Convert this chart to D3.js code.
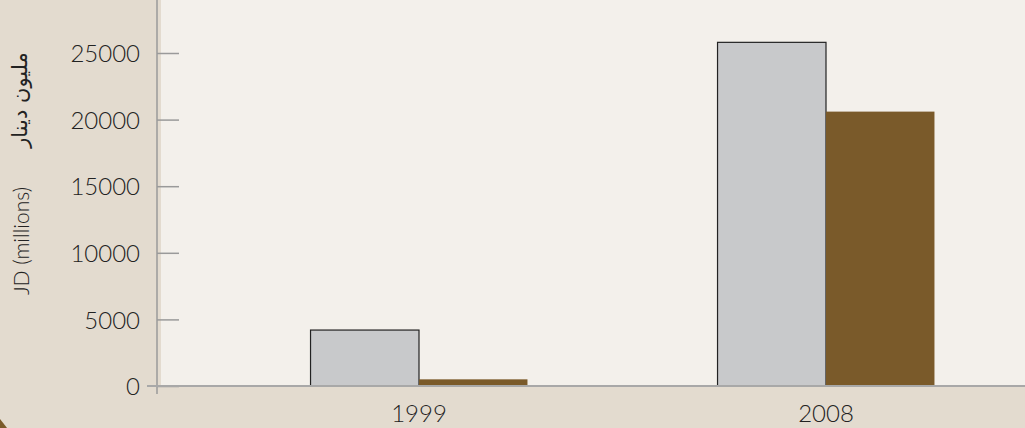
<!DOCTYPE html>
<html>
<head>
<meta charset="utf-8">
<script src="https://cdn.jsdelivr.net/npm/d3@7"></script>
<style>
  body { margin: 0; background: #e3dbcf; }
  svg { display: block; }
  text { font-family: "Lato", "Noto Sans", sans-serif; font-weight: 300; fill: #222; }
</style>
</head>
<body>
<svg width="1025" height="428"></svg>
<script>
var years = ["1999", "2008"];
var seriesNames = ["a", "b"];
var seriesA = [4200, 25800];
var seriesB = [500, 20600];
var yTicks = [0, 5000, 10000, 15000, 20000, 25000];

var width = 1025, height = 428;
var svg = d3.select("svg");

var x0 = d3.scaleBand().domain(years).range([215.5, 1029.5]).paddingInner(0.467).paddingOuter(0.2335);
var x1 = d3.scaleBand().domain(seriesNames).range([0, x0.bandwidth()]);
var y = d3.scaleLinear().domain([0, 25000]).range([386, 53]);
var color = d3.scaleOrdinal().domain(seriesNames).range(["#c8c9cb", "#7a5a2a"]);

// plot background
svg.append("rect").attr("x", 161).attr("y", 0).attr("width", width - 161).attr("height", 386)
  .attr("fill", "#f3f0eb");

// bottom-left corner mark
svg.append("path").attr("d", "M0,419 Q4,424 7,428 L0,428 Z").attr("fill", "#7a5a2a");

var rows = years.map(function(d, i) { return {year: d, vals: [seriesA[i], seriesB[i]]}; });

var g = svg.selectAll(".grp").data(rows).enter().append("g")
  .attr("transform", function(d) { return "translate(" + x0(d.year) + ",0)"; });

g.selectAll("rect").data(function(d) {
    return d.vals.map(function(v, i) { return {key: seriesNames[i], value: v}; });
  })
  .enter().append("rect")
  .attr("x", function(d) { return x1(d.key); })
  .attr("y", function(d) { return y(d.value); })
  .attr("width", x1.bandwidth())
  .attr("height", function(d) { return y(0) - y(d.value); })
  .attr("fill", function(d) { return color(d.key); })
  .attr("stroke", function(d) { return d.key == "a" ? "#222" : "none"; })
  .attr("stroke-width", 1.2);

// y axis
var yAxis = d3.axisRight(y).tickValues(yTicks).tickSize(22).tickFormat(function(d) { return "" + d; });
var ya = svg.append("g").attr("transform", "translate(157,0)").call(yAxis);
ya.select(".domain").remove();
ya.selectAll(".tick line").attr("stroke", "#9a9a9a").attr("stroke-width", 1.5);
ya.selectAll(".tick text").attr("x", -17).attr("text-anchor", "end").attr("dy", "0.36em")
  .style("font-size", "24px").attr("fill", "#222");

svg.append("line").attr("x1", 157).attr("x2", 157).attr("y1", 0).attr("y2", 394)
  .attr("stroke", "#9a9a9a").attr("stroke-width", 1.5);
svg.append("line").attr("x1", 147).attr("x2", width).attr("y1", 386).attr("y2", 386)
  .attr("stroke", "#a8a8a8").attr("stroke-width", 2);

// x axis labels
var xAxis = d3.axisBottom(x0).tickSize(0).tickPadding(0);
var xa = svg.append("g").attr("transform", "translate(0,386)").call(xAxis);
xa.select(".domain").remove();
xa.selectAll(".tick text").attr("y", 36).attr("dy", 0).style("font-size", "24px").attr("fill", "#222");

// y titles
svg.append("text").attr("transform", "translate(29,241) rotate(-90)").attr("text-anchor", "middle")
  .style("font-size", "21px").text("JD (millions)");
svg.append("text").attr("transform", "translate(27,100) rotate(-90)").attr("text-anchor", "middle")
  .style("font-size", "21px").style("font-weight", "normal")
  .style("font-family", "'DejaVu Sans', 'Noto Sans', sans-serif").attr("direction", "rtl")
  .text("مليون دينار");
</script>
</body>
</html>
